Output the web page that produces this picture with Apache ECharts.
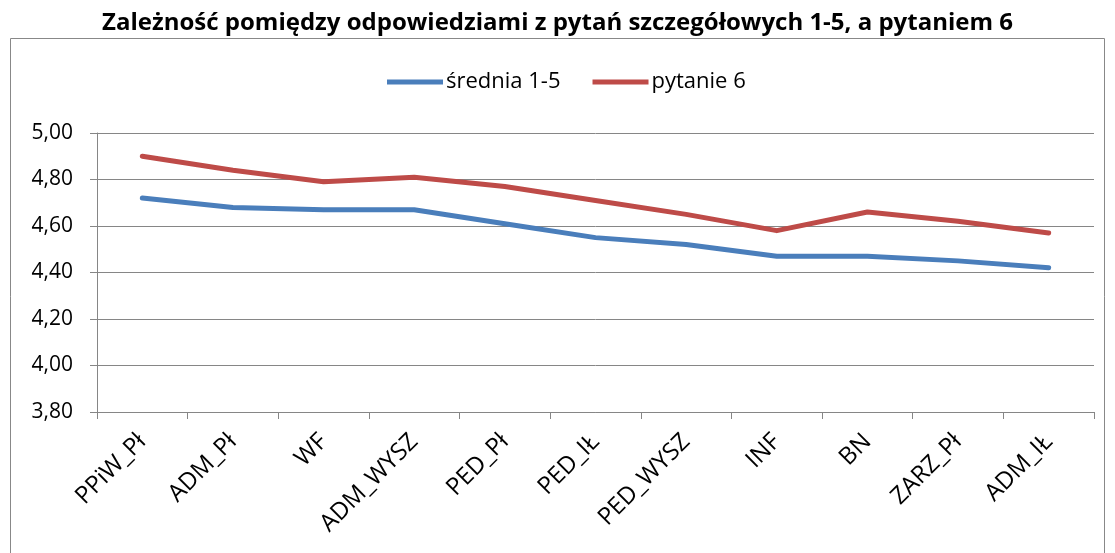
<!DOCTYPE html>
<html>
<head>
<meta charset="utf-8">
<script src="https://cdn.jsdelivr.net/npm/echarts@6/dist/echarts.min.js"></script>
<style>
  html, body { margin: 0; padding: 0; background: #fff; }
  #chart { width: 1115px; height: 553px; }
</style>
</head>
<body>
<div id="chart"></div>
<script>
const categories = ['PPiW_Pł', 'ADM_Pł', 'WF', 'ADM_WYSZ', 'PED_Pł', 'PED_IŁ', 'PED_WYSZ', 'INF', 'BN', 'ZARZ_Pł', 'ADM_IŁ']
const srednia = [4.72, 4.68, 4.67, 4.67, 4.61, 4.55, 4.52, 4.47, 4.47, 4.45, 4.42]
const pytanie6 = [4.90, 4.84, 4.79, 4.81, 4.77, 4.71, 4.65, 4.58, 4.66, 4.62, 4.57]

const font = '"Open Sans", "Liberation Sans", sans-serif'
const chart = echarts.init(document.getElementById('chart'))

chart.setOption({
  animation: false,
  color: ['#4A7EBB', '#BE4B48'],
  // ramka wykresu
  graphic: [{
    type: 'rect',
    shape: { x: 10.5, y: 38.5, width: 1094, height: 530 },
    style: { fill: 'none', stroke: '#888', lineWidth: 1 },
    silent: true
  }],
  title: {
    text: 'Zależność pomiędzy odpowiedziami z pytań szczegółowych 1-5, a pytaniem 6',
    left: 'center',
    top: 6,
    textStyle: { fontFamily: font, fontWeight: 'bold', fontSize: 24, color: '#000' }
  },
  legend: {
    top: 66,
    left: 382,
    icon: 'rect',
    itemWidth: 56,
    itemHeight: 5,
    itemGap: 32,
    textStyle: { fontFamily: font, fontSize: 22, color: '#000', padding: [0, 0, 0, -2] }
  },
  grid: { left: 97, right: 21, top: 133, bottom: 141 },
  xAxis: {
    type: 'category',
    data: categories,
    boundaryGap: true,
    axisLine: { lineStyle: { color: '#868686', width: 1 } },
    axisTick: { show: true, length: 7, lineStyle: { color: '#868686' } },
    axisLabel: {
      interval: 0,
      rotate: 45,
      margin: 26,
      fontFamily: font,
      fontSize: 24,
      color: '#000'
    }
  },
  yAxis: {
    type: 'value',
    min: 3.8,
    max: 5.0,
    interval: 0.2,
    axisLine: { show: true, lineStyle: { color: '#868686' } },
    axisTick: { show: true, length: 7, lineStyle: { color: '#868686' } },
    splitLine: { lineStyle: { color: '#868686', width: 1 } },
    axisLabel: {
      margin: 24,
      fontFamily: font,
      fontSize: 21,
      color: '#000',
      formatter: v => v.toFixed(2).replace('.', ',')
    }
  },
  series: [
    {
      name: 'średnia 1-5',
      type: 'line',
      data: srednia,
      symbol: 'none',
      lineStyle: { width: 5, cap: 'round', join: 'round' }
    },
    {
      name: 'pytanie 6',
      type: 'line',
      data: pytanie6,
      symbol: 'none',
      lineStyle: { width: 5, cap: 'round', join: 'round' }
    }
  ]
})
</script>
</body>
</html>
